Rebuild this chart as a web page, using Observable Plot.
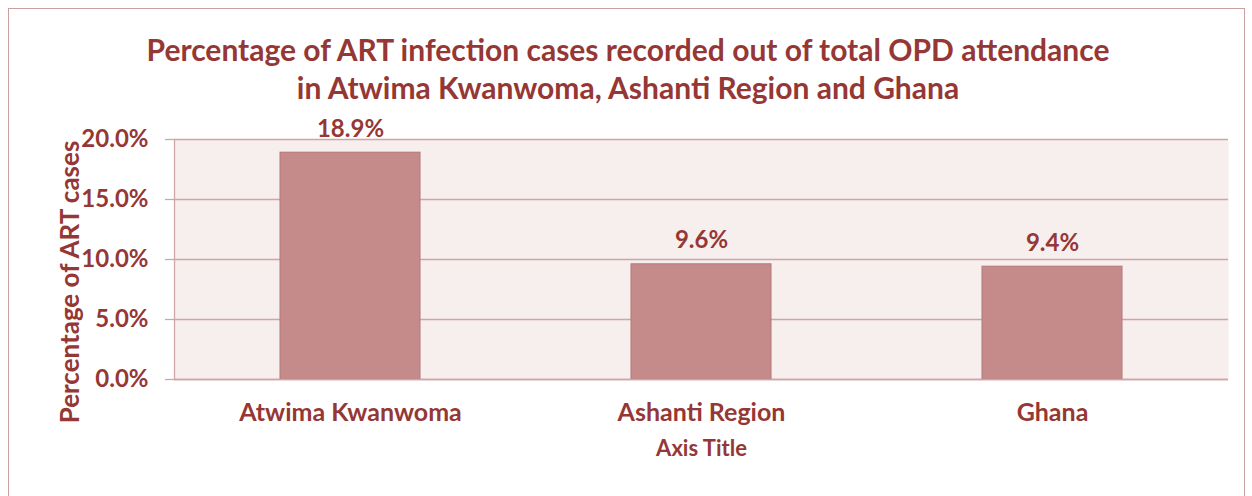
<!DOCTYPE html>
<html>
<head>
<meta charset="utf-8">
<script src="https://cdn.jsdelivr.net/npm/d3@7"></script>
<script src="https://cdn.jsdelivr.net/npm/@observablehq/plot@0.6"></script>
<style>
  body { margin: 0; background: #fff; }
  #wrap { position: relative; width: 1252px; height: 496px; overflow: hidden; font-family: Lato, "Open Sans", sans-serif; }
  #border { position: absolute; left: 8px; top: 8px; width: 1237px; height: 500px; border: 1.5px solid #c9a0a0; box-sizing: border-box; }
  #title { position: absolute; left: 0; width: 1252px; top: 30px; text-align: center; color: #953735; font-weight: 700; font-size: 30px; line-height: 38px; padding-left: 4px; box-sizing: border-box; }
  #ylabel { position: absolute; left: 69px; top: 282px; width: 400px; margin-left: -200px; margin-top: -16px; line-height: 32px; text-align: center; transform: rotate(-90deg); color: #953735; font-weight: 700; font-size: 26px; white-space: nowrap; }
  #chart { position: absolute; left: 0; top: 0; }
</style>
</head>
<body>
<div id="wrap">
  <div id="border"></div>
  <div id="chart"></div>
  <div id="title">Percentage of ART infection cases recorded out of total OPD attendance<br>in Atwima Kwanwoma, Ashanti Region and Ghana</div>
  <div id="ylabel"></div>
</div>
<script>
const categories = ["Atwima Kwanwoma", "Ashanti Region", "Ghana"];
const values = [18.9, 9.6, 9.4];
const yTicks = [0, 5, 10, 15, 20];
const yLabel = "Percentage of ART cases";
const xLabel = "Axis Title";

const data = categories.map((c, i) => ({category: c, value: values[i]}));
const red = "#953735";
const grid = "#cfa5a5";
const fmt = d => d.toFixed(1) + "%";

document.getElementById("ylabel").textContent = yLabel;

const plot = Plot.plot({
  width: 1252,
  height: 496,
  marginLeft: 174,
  marginRight: 24,
  marginTop: 139,
  marginBottom: 117,
  style: {fontFamily: "Lato, 'Open Sans', sans-serif", background: "transparent", color: red},
  x: {domain: categories, paddingInner: 0.6, paddingOuter: 0.3, label: null},
  y: {domain: [0, 20], label: null},
  marks: [
    Plot.frame({fill: "#f7eeee", stroke: null}),
    Plot.gridY(yTicks, {stroke: grid, strokeOpacity: 1, strokeWidth: 1.3}),
    Plot.axisY({ticks: yTicks, tickFormat: fmt, tickSize: 9, tickPadding: 17, stroke: grid, strokeWidth: 1.3, fontSize: 24, fontWeight: 700, fill: red, label: null}),
    Plot.axisX({tickSize: 0, tickPadding: 24, fontSize: 25, fontWeight: 700, fill: red, label: null}),
    Plot.frame({anchor: "left", stroke: grid, strokeWidth: 1.3}),
    Plot.barY(data, {x: "category", y: "value", fill: "#c58b8b", stroke: "#b47676", strokeWidth: 1}),
    Plot.ruleY([0], {stroke: grid, strokeWidth: 1.3}),
    Plot.text(data, {x: "category", y: "value", text: d => fmt(d.value), lineAnchor: "bottom", dy: -16, fontSize: 24, fontWeight: 700, fill: red}),
    Plot.text([xLabel], {frameAnchor: "bottom", dy: 76, text: d => d, fontSize: 22, fontWeight: 700, fill: red})
  ]
});
document.getElementById("chart").appendChild(plot);
</script>
</body>
</html>
